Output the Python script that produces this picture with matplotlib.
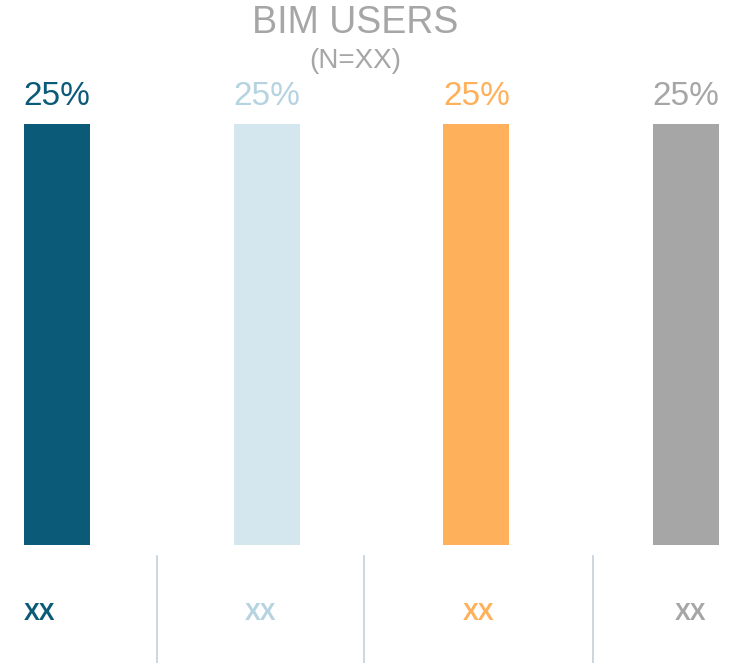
import matplotlib.pyplot as plt
from matplotlib.lines import Line2D

plt.rcParams['font.family'] = ['Liberation Sans', 'DejaVu Sans']

# chart data
categories = ['A', 'B', 'C', 'D']
values = [25, 25, 25, 25]
bottom_labels = ['XX', 'XX', 'XX', 'XX']
title = 'BIM USERS'
subtitle = '(N=XX)'

bar_colors = ['#0b5b78', '#d4e6ee', '#ffb05a', '#a6a6a6']
text_colors = ['#0b5b78', '#b5d3e0', '#ffb05a', '#a6a6a6']

W, H = 729, 663
fig = plt.figure(figsize=(W / 100, H / 100), dpi=100)

# bar area in pixel terms (from top of image)
left_px, right_px = 24, 719
top_px, bot_px = 124, 545
bar_w = 0.315
ax = fig.add_axes([left_px / W, (H - bot_px) / H,
                   (right_px - left_px) / W, (bot_px - top_px) / H])
xs = list(range(len(categories)))
ax.bar(xs, values, width=bar_w, color=bar_colors)
ax.set_xlim(-bar_w / 2, xs[-1] + bar_w / 2)
ax.set_ylim(0, max(values))
ax.axis('off')

for x, v, c in zip(xs, values, text_colors):
    ax.annotate(f'{v}%', (x, v), xytext=(0, 20), textcoords='offset points',
                ha='center', va='center', fontsize=24, color=c)

# title block
fig.text(355 / W, 1 - 23 / H, title, ha='center', va='center',
         fontsize=27, color='#a6a6a6')
fig.text(355 / W, 1 - 61 / H, subtitle, ha='center', va='center',
         fontsize=20, color='#a6a6a6')

# bottom row: labels and separators
label_x = [40, 261, 479, 691]
for lx, lab, c in zip(label_x, bottom_labels, text_colors):
    fig.text(lx / W, 1 - 613 / H, lab, ha='center', va='center',
             fontsize=17, fontweight='bold', color=c)

for sx in [157, 364, 593]:
    fig.add_artist(Line2D([sx / W, sx / W], [1 - 556 / H, 0],
                          transform=fig.transFigure, color='#c5d0d9', lw=1.2))

fig.savefig('out.png', dpi=100, facecolor='white')
